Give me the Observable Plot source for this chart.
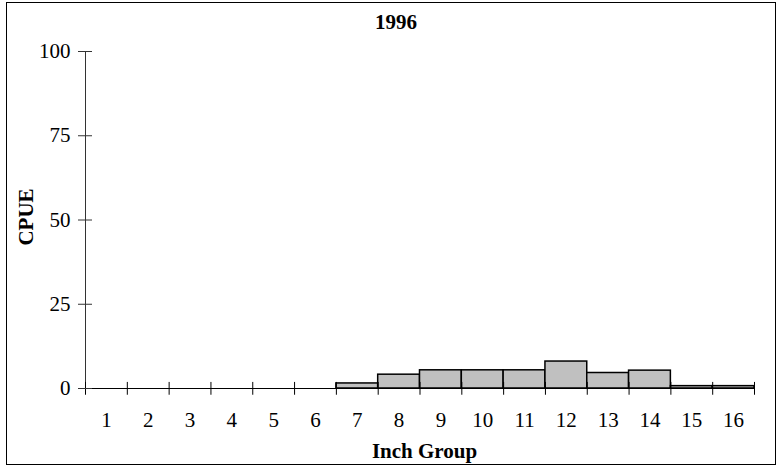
<!DOCTYPE html>
<html>
<head>
<meta charset="utf-8">
<script src="https://cdn.jsdelivr.net/npm/d3@7"></script>
<script src="https://cdn.jsdelivr.net/npm/@observablehq/plot@0.6"></script>
<style>
  html, body { margin: 0; padding: 0; background: #fff; }
  #wrap { position: relative; width: 778px; height: 467px; }
  #frame { position: absolute; left: 6px; top: 2px; width: 770px; height: 463px; border: 1px solid #000; box-sizing: border-box; pointer-events: none; }
</style>
</head>
<body>
<div id="wrap"><div id="frame"></div></div>
<script>
const title = "1996";
const xLabel = "Inch Group";
const yLabel = "CPUE";
const inches = [1, 2, 3, 4, 5, 6, 7, 8, 9, 10, 11, 12, 13, 14, 15, 16];
const cpue = [0, 0, 0, 0, 0, 0, 1.5, 4.1, 5.4, 5.4, 5.4, 8.0, 4.6, 5.3, 0.7, 0.7];
const yTicks = [0, 25, 50, 75, 100];

const data = inches.map((d, i) => ({inch: d, value: cpue[i]}));
const bounds = [...inches.map(d => d - 0.5), inches[inches.length - 1] + 0.5];

const font = "'Liberation Serif', 'Times New Roman', serif";
const fs = 21;

const chart = Plot.plot({
  width: 778,
  height: 467,
  marginLeft: 85,
  marginRight: 24,
  marginTop: 51,
  marginBottom: 79,
  style: {fontFamily: font, fontSize: fs + "px", color: "#000", background: "transparent"},
  x: {type: "linear", domain: [0.5, 16.5]},
  y: {domain: [0, 100]},
  marks: [
    Plot.rectY(data.filter(d => d.value > 0), {
      x1: d => d.inch - 0.5, x2: d => d.inch + 0.5, y1: 0, y2: "value",
      fill: "#c0c0c0", stroke: "#000", strokeWidth: 1.5
    }),
    Plot.ruleY([0], {stroke: "#000", strokeWidth: 1.2}),
    Plot.ruleX([0.5], {y1: 0, y2: 100, stroke: "#333", strokeWidth: 1}),
    Plot.ruleX(bounds, {x: d => d, y1: -2, y2: 1.8, stroke: "#000", strokeWidth: 1}),
    Plot.axisY({ticks: yTicks, tickSize: 14, dx: 7, tickFormat: () => "", stroke: "#333", label: null}),
    Plot.axisY({ticks: yTicks, tickSize: 0, tickPadding: 15, fontSize: fs, label: null}),
    Plot.axisX({ticks: inches, tickSize: 0, tickPadding: 24, fontSize: fs, label: null}),
    Plot.text([title], {frameAnchor: "top", lineAnchor: "middle", dx: -24, dy: -29.5, fontWeight: "bold", fontSize: fs}),
    Plot.text([yLabel], {frameAnchor: "left", lineAnchor: "middle", textAnchor: "middle", rotate: -90, dx: -59, dy: -3, fontWeight: "bold", fontSize: fs}),
    Plot.text([xLabel], {frameAnchor: "bottom", lineAnchor: "middle", dx: 4.5, dy: 63, fontWeight: "bold", fontSize: fs})
  ]
});
document.getElementById("wrap").prepend(chart);
chart.style.position = "absolute";
chart.style.left = "0";
chart.style.top = "0";
</script>
</body>
</html>
